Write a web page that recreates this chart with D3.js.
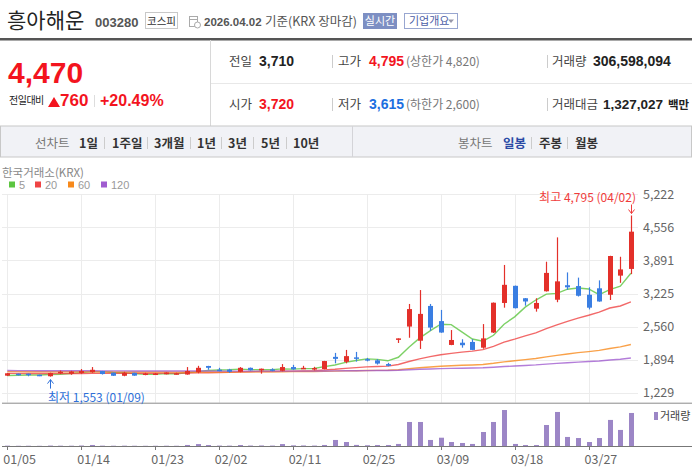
<!DOCTYPE html>
<html><head><meta charset="utf-8">
<script src="https://cdn.jsdelivr.net/npm/d3@7/dist/d3.min.js"></script>
<style>
body{margin:0;background:#fff;}
svg{display:block;font-family:"Liberation Sans","Noto Sans CJK KR",sans-serif;}
.ck{font-family:"Noto Sans CJK KR","DejaVu Sans",sans-serif;}
</style></head>
<body>
<script>
// ---- DATA ----
const dates = ["01/05","01/06","01/07","01/08","01/09","01/12","01/13","01/14","01/15","01/16",
"01/19","01/20","01/21","01/22","01/23","01/26","01/27","01/28","01/29","01/30",
"02/02","02/03","02/04","02/05","02/06","02/09","02/10","02/11","02/12","02/13",
"02/19","02/20","02/23","02/24","02/25","02/26","02/27","03/03","03/04","03/05",
"03/06","03/09","03/10","03/11","03/12","03/13","03/16","03/17","03/18","03/19",
"03/20","03/23","03/24","03/25","03/26","03/27","03/30","03/31","04/01","04/02"];
const opens  = [1572,1612,1612,1590,1560,1625,1610,1625,1640,1665,1632,1570,1630,1600,1600,1600,1605,1595,1640,1767,
1692,1695,1650,1730,1680,1700,1670,1745,1710,1700,1706,1950,1850,1940,1905,1880,1805,2312,2560,2275,
2975,2670,2190,2235,2250,2135,2440,3035,3380,3130,2920,3270,3100,3392,3375,3200,3330,3200,3585,3720];
const highs  = [1625,1615,1615,1592,1632,1675,1670,1705,1745,1668,1635,1650,1632,1630,1625,1640,1632,1745,1770,1770,
1730,1710,1745,1735,1715,1720,1805,1790,1770,1750,1870,2030,2090,2050,1930,1905,1830,2322,3015,3295,
3015,2895,2490,2305,2305,2610,3045,3800,3385,3135,3130,3865,4355,3650,3545,3350,3490,3985,3965,4795];
const lows   = [1565,1575,1560,1562,1553,1605,1590,1610,1630,1595,1568,1560,1570,1580,1585,1598,1595,1592,1620,1690,
1660,1630,1640,1675,1612,1660,1660,1690,1705,1680,1700,1820,1820,1855,1860,1795,1760,2230,2335,2110,
2475,2435,2185,2135,2085,2115,2430,2940,2925,2980,2860,3265,3050,3300,3165,2905,3060,3095,3440,3615];
const closes = [1620,1580,1585,1565,1625,1650,1655,1665,1690,1605,1570,1630,1572,1615,1615,1635,1620,1665,1730,1730,
1680,1650,1730,1680,1712,1680,1745,1700,1730,1725,1866,1910,1965,1915,1890,1815,1770,2322,2912,2815,
2540,2440,2290,2185,2090,2322,3040,3400,2930,3065,3035,3640,3470,3350,3180,2940,3065,3980,3710,4470];
// volume, million shares
const volumes = [3.2,2.1,2.5,1.9,4.0,3.0,2.8,4.5,9.5,3.3,2.6,3.1,2.4,2.0,2.2,2.7,2.3,9.5,18,9,
4,3.5,9,4.2,5,3.8,18,6,5,4,9.5,56,37,10,7,9,9,19,223,223,
56,77,37,28,19,130,223,334,19,9,9,195,316,84,74,37,74,242,149,306.598];
const ma5   = [1575,1580,1584,1586,1595,1601,1616,1632,1657,1653,1637,1632,1613,1598,1600,1613,1611,1630,1653,1676,
1685,1691,1704,1694,1690,1690,1709,1703,1713,1716,1753,1786,1839,1876,1909,1899,1871,1942,2142,2327,
2472,2606,2599,2454,2309,2265,2385,2607,2756,2951,3094,3214,3228,3312,3335,3316,3201,3303,3375,3633];
const ma20  = [1618,1617,1616,1615,1614,1614,1615,1616,1618,1619,1619,1620,1620,1620,1621,1622,1623,1625,1628,1631,
1634,1638,1645,1651,1655,1656,1661,1663,1665,1671,1686,1700,1719,1734,1748,1757,1764,1797,1856,1911,
1954,1993,2021,2046,2065,2097,2162,2247,2307,2374,2433,2519,2594,2666,2731,2787,2852,2934,2974,3057];
const ma60  = [1654,1653,1652,1651,1650,1650,1650,1650,1651,1650,1648,1648,1647,1646,1645,1645,1644,1645,1646,1647,
1647,1647,1649,1649,1650,1650,1652,1653,1654,1655,1659,1663,1668,1672,1676,1679,1681,1692,1713,1732,
1747,1760,1771,1780,1787,1798,1821,1850,1871,1895,1918,1951,1981,2009,2035,2056,2080,2118,2152,2199];
const ma120 = [1675,1674,1673,1672,1671,1671,1670,1670,1670,1669,1668,1668,1667,1667,1666,1666,1665,1665,1665,1665,
1664,1664,1664,1664,1664,1664,1664,1664,1664,1664,1666,1668,1670,1672,1674,1675,1676,1681,1691,1700,
1707,1713,1718,1722,1725,1730,1741,1755,1765,1777,1788,1804,1819,1833,1845,1856,1867,1886,1903,1926];
const priceTicks = [1229,1894,2560,3225,3891,4556,5222];
const dateTicks = ["01/05","01/14","01/23","02/02","02/11","02/25","03/09","03/18","03/27"];
const maNames = ["5","20","60","120"];
const maColors = ["#5cc540","#ef4444","#f7891b","#a05cd0"];
const maSeries = [ma5, ma20, ma60, ma120];

// ---- DRAW ----
const svg = d3.select("body").append("svg").attr("width",692).attr("height",469);
function txt(x,y,s,o){o=o||{};const t=svg.append("text").attr("x",x).attr("y",y).text(s)
  .attr("font-size",o.size||12).attr("fill",o.fill||"#333").attr("font-weight",o.bold?"bold":"normal");
  if(o.anchor)t.attr("text-anchor",o.anchor); if(o.cls)t.attr("class",o.cls); if(o.ls)t.attr("letter-spacing",o.ls); return t;}

// header
txt(7,28,"흥아해운",{size:21,fill:"#222",cls:"ck"});
txt(95,27,"003280",{size:13,bold:true,fill:"#555"});
svg.append("rect").attr("x",145.5).attr("y",12.5).attr("width",32).attr("height",16).attr("fill","#fff").attr("stroke","#c8c8c8");
txt(161.5,24.5,"코스피",{size:10.5,fill:"#333",anchor:"middle",cls:"ck"});
const ic=svg.append("g").attr("fill","none").attr("stroke","#aaa");
ic.append("rect").attr("x",189.5).attr("y",16.5).attr("width",8).attr("height",10);
ic.append("line").attr("x1",189.5).attr("x2",197.5).attr("y1",19.5).attr("y2",19.5);
ic.append("circle").attr("cx",197.5).attr("cy",25).attr("r",3).attr("fill","#fff");
txt(204,26,"2026.04.02",{size:11.5,bold:true,fill:"#555"});
txt(265,26,"기준(KRX 장마감)",{size:12.5,fill:"#555",cls:"ck"});
svg.append("rect").attr("x",363).attr("y",13).attr("width",34).attr("height",16).attr("fill","#7d8fc3");
txt(380,25,"실시간",{size:11,fill:"#fff",anchor:"middle",cls:"ck"});
svg.append("rect").attr("x",404.5).attr("y",13.5).attr("width",53).attr("height",15).attr("fill","#fff").attr("stroke","#98a6d0");
txt(409,25,"기업개요",{size:11,fill:"#4d5ea6",cls:"ck"});
svg.append("path").attr("d","M448,19.5 L454,19.5 L451,23 Z").attr("fill","#99a");
svg.append("rect").attr("x",0).attr("y",38).attr("width",692).attr("height",2.5).attr("fill","#555");

// price box
svg.append("line").attr("x1",210.5).attr("x2",210.5).attr("y1",40).attr("y2",126).attr("stroke","#d8d8d8");
svg.append("line").attr("x1",211).attr("x2",692).attr("y1",83.5).attr("y2",83.5).attr("stroke","#e8e8e8");
txt(8,83,"4,470",{size:30,bold:true,fill:"#f3141e"});
txt(9,104,"전일대비",{size:10,fill:"#222",cls:"ck",ls:-0.5});
svg.append("path").attr("d","M48,107 L54,97 L60,107 Z").attr("fill","#f3141e");
txt(60,106,"760",{size:17,bold:true,fill:"#f3141e"});
svg.append("line").attr("x1",94.5).attr("x2",94.5).attr("y1",95).attr("y2",107).attr("stroke","#ddd");
txt(100,106,"+20.49%",{size:16,bold:true,fill:"#f3141e"});
const r1=66, r2=109;
txt(229,r1,"전일",{size:12.5,fill:"#444",cls:"ck"}); txt(259,r1,"3,710",{size:14,bold:true,fill:"#222"});
txt(229,r2,"시가",{size:12.5,fill:"#444",cls:"ck"}); txt(259,r2,"3,720",{size:14,bold:true,fill:"#f3141e"});
txt(338,r1,"고가",{size:12.5,fill:"#444",cls:"ck"}); txt(369,r1,"4,795",{size:14,bold:true,fill:"#f3141e"});
txt(406,r1,"(상한가 4,820)",{size:12,fill:"#777",cls:"ck"});
txt(338,r2,"저가",{size:12.5,fill:"#444",cls:"ck"}); txt(369,r2,"3,615",{size:14,bold:true,fill:"#1b6fe0"});
txt(406,r2,"(하한가 2,600)",{size:12,fill:"#777",cls:"ck"});
txt(552,r1,"거래량",{size:12.5,fill:"#444",cls:"ck"}); txt(593,r1,"306,598,094",{size:14,bold:true,fill:"#222"});
txt(552,r2,"거래대금",{size:12.5,fill:"#444",cls:"ck"}); txt(603,r2,"1,327,027",{size:13.5,bold:true,fill:"#222"});
txt(668,r2,"백만",{size:11.5,bold:true,fill:"#222",cls:"ck"});
[[332.5,55],[332.5,98],[547.5,55],[547.5,98]].forEach(p=>svg.append("line").attr("x1",p[0]).attr("x2",p[0]).attr("y1",p[1]).attr("y2",p[1]+13).attr("stroke","#ccc"));

// button bar
svg.append("rect").attr("x",0.5).attr("y",126).attr("width",691).attr("height",31).attr("fill","#f1f2f6").attr("stroke","#c8c8c8");
svg.append("line").attr("x1",352.5).attr("x2",352.5).attr("y1",126).attr("y2",157).attr("stroke","#d4d4d8");
const by=148;
txt(35,by,"선차트",{size:12.5,fill:"#777",cls:"ck"});
[["1일",79],["1주일",112],["3개월",154],["1년",197],["3년",228],["5년",261],["10년",293]].forEach(d=>txt(d[1],by,d[0],{size:12.5,bold:true,fill:"#333",cls:"ck"}));
[104.5,147.5,190.5,221.5,253.5,286.5,531.5,567.5].forEach(x=>svg.append("line").attr("x1",x).attr("x2",x).attr("y1",137).attr("y2",149).attr("stroke","#ccc"));
txt(458,by,"봉차트",{size:12.5,fill:"#777",cls:"ck"});
txt(503,by,"일봉",{size:12.5,bold:true,fill:"#2a4aa5",cls:"ck"});
txt(539,by,"주봉",{size:12.5,bold:true,fill:"#333",cls:"ck"});
txt(575,by,"월봉",{size:12.5,bold:true,fill:"#333",cls:"ck"});

// chart title & legend
txt(2,177,"한국거래소(KRX)",{size:11.5,fill:"#888",cls:"ck"});
const lx=[9,35,68,101];
maNames.forEach((n,i)=>{svg.append("rect").attr("x",lx[i]).attr("y",181.5).attr("width",6).attr("height",6).attr("fill",maColors[i]);
  txt(lx[i]+10,189,n,{size:11,fill:"#999"});});

// scales
const plotL=2, plotR=638, pTop=194.3, pBot=402.7, vBot=446;
const x = d3.scalePoint().domain(dates).range([7.3,630.9]);
const y = d3.scaleLinear().domain([1229,5222]).range([392.7,194.3]);
const yv = d3.scaleLinear().domain([0,402]).range([vBot,pBot]);

// grid
const g = svg.append("g");
g.selectAll(".hg").data(priceTicks).join("line").attr("x1",plotL).attr("x2",plotR)
  .attr("y1",d=>Math.round(y(d))+0.5).attr("y2",d=>Math.round(y(d))+0.5).attr("stroke","#ececec");
g.selectAll(".vg").data(dateTicks).join("line").attr("x1",d=>Math.round(x(d))+0.5).attr("x2",d=>Math.round(x(d))+0.5)
  .attr("y1",pTop).attr("y2",pBot).attr("stroke","#ececec");
// y labels
svg.append("g").selectAll("text").data(priceTicks).join("text").attr("class","ck")
  .attr("x",643).attr("y",d=>y(d)+4.5).attr("font-size",12.5).attr("fill","#666").text(d=>d3.format(",")(d));

// MA lines
maSeries.forEach((s,k)=>{
  svg.append("path").datum(s).attr("fill","none").attr("stroke",maColors[k]).attr("stroke-width",1.4)
    .attr("stroke-opacity",0.8)
    .attr("d",d3.line().x((d,i)=>x(dates[i])).y(d=>y(d)));
});

// candles
const idx = d3.range(dates.length);
const cg = svg.append("g");
idx.forEach(i=>{
  const up = closes[i]>=opens[i];
  const col = up ? "#e3302a" : "#3a7ee2";
  const cx = Math.round(x(dates[i]));
  cg.append("line").attr("x1",cx+0.5).attr("x2",cx+0.5).attr("y1",y(highs[i])).attr("y2",y(lows[i])).attr("stroke",col).attr("stroke-width",1.2);
  const t=y(Math.max(opens[i],closes[i])), b=y(Math.min(opens[i],closes[i]));
  cg.append("rect").attr("x",cx-2).attr("width",5).attr("y",t).attr("height",Math.max(1.5,b-t)).attr("fill",col);
});

// axes lines
svg.append("line").attr("x1",plotL).attr("x2",692).attr("y1",pBot+0.5).attr("y2",pBot+0.5).attr("stroke","#8a8a8a");
// volume bars
svg.append("g").selectAll("rect").data(volumes).join("rect")
  .attr("x",(d,i)=>Math.round(x(dates[i]))-2).attr("width",5)
  .attr("y",d=>yv(d)).attr("height",d=>vBot-yv(d)).attr("fill","#9c86c6");
svg.append("line").attr("x1",plotL).attr("x2",692).attr("y1",vBot+0.5).attr("y2",vBot+0.5).attr("stroke","#777");
svg.append("g").selectAll("line").data(dateTicks).join("line").attr("x1",d=>Math.round(x(d))+0.5).attr("x2",d=>Math.round(x(d))+0.5)
  .attr("y1",vBot).attr("y2",vBot+4).attr("stroke","#777");
svg.append("g").selectAll("text").data(dateTicks).join("text").attr("class","ck")
  .attr("x",d=>x(d)-4).attr("y",464).attr("font-size",12.5).attr("fill","#666").text(d=>d);
svg.append("rect").attr("x",654).attr("y",412).attr("width",4).attr("height",8).attr("fill","#9c86c6");
txt(660,420,"거래량",{size:11,fill:"#444",cls:"ck"});

// high / low annotations
const hi = d3.maxIndex(highs), lo = d3.minIndex(lows);
const hx = Math.round(x(dates[hi]))+0.5, hy = y(highs[hi]);
svg.append("path").attr("d",`M${hx},${hy-11} L${hx},${hy-2} M${hx-3},${hy-6} L${hx},${hy-2} L${hx+3},${hy-6}`).attr("stroke","#f03c3c").attr("fill","none");
txt(636,hy-14,`최고 ${d3.format(",")(highs[hi])} (${dates[hi]})`,{size:12,fill:"#f03c3c",anchor:"end",cls:"ck"});
const lxp = Math.round(x(dates[lo]))+0.5, ly = y(lows[lo]);
svg.append("path").attr("d",`M${lxp},${ly+12} L${lxp},${ly+3} M${lxp-3},${ly+7} L${lxp},${ly+3} L${lxp+3},${ly+7}`).attr("stroke","#2d6fd8").attr("fill","none");
txt(48,ly+25,`최저 ${d3.format(",")(lows[lo])} (${dates[lo]})`,{size:12,fill:"#2d6fd8",cls:"ck"});
</script>
</body></html>
